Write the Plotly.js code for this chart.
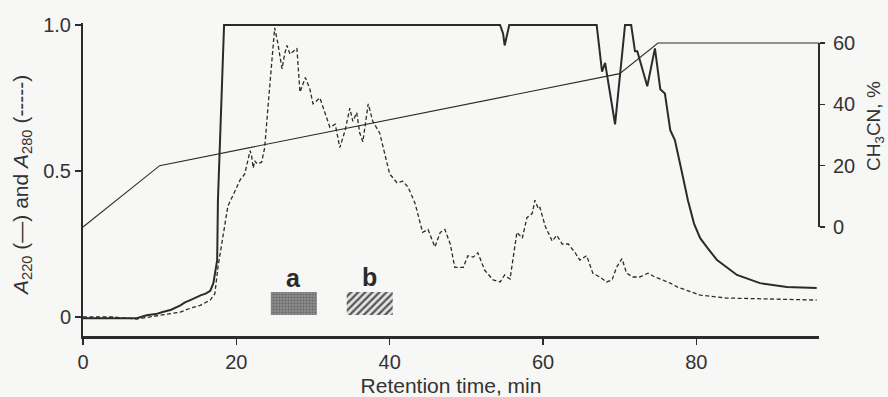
<!DOCTYPE html>
<html>
<head>
<meta charset="utf-8">
<script src="https://cdn.plot.ly/plotly-3.0.1.min.js"></script>
<style>
html,body{margin:0;padding:0;background:#f7f7f5;}
#chart{width:888px;height:397px;}
</style>
</head>
<body>
<div id="chart"></div>
<script>
// Retention time (min) and absorbance at 220 nm (solid)
var timeA220 = [0, 3.5, 7.0, 8.3, 9.5, 10.4, 11.5, 12.7, 13.3, 14.0, 14.8, 15.4, 16.0, 16.6, 17.0, 17.5, 17.6, 18.1, 18.4,
  54.4, 54.8, 55.0, 55.3, 55.6, 67.0, 67.7, 68.1, 69.4, 70.7, 71.5, 72.0, 72.3, 73.6, 74.6, 75.3, 75.9, 76.6, 77.2, 78.0,
  78.9, 79.7, 80.5, 81.5, 82.7, 85.3, 88.3, 91.8, 95.7];
var valA220 = [-0.004, -0.005, -0.004, 0.006, 0.01, 0.017, 0.025, 0.04, 0.05, 0.058, 0.068, 0.075, 0.08, 0.09, 0.115, 0.195, 0.4, 0.74, 1.0,
  1.0, 0.97, 0.93, 0.97, 1.0, 1.0, 0.84, 0.87, 0.66, 1.0, 1.0, 0.91, 0.91, 0.79, 0.92, 0.78, 0.765, 0.64, 0.606, 0.51,
  0.40, 0.32, 0.27, 0.235, 0.195, 0.144, 0.116, 0.103, 0.099];

// Absorbance at 280 nm (dashed)
var timeA280 = [0, 3.9, 7.0, 10.4, 12.7, 14.0, 15.3, 16.6, 17.2, 17.6, 18.3, 18.9, 19.8, 20.5, 21.1, 21.5, 21.8, 22.0, 22.2, 22.4,
  22.7, 23.3, 23.7, 24.1, 24.7, 25.0, 25.4, 25.96, 26.3, 26.6, 27.0, 27.4, 27.9, 28.3, 29.0, 29.6, 30.0, 30.9, 31.6, 32.2,
  32.9, 33.5, 34.2, 34.8, 35.2, 35.7, 36.1, 36.5, 37.2, 37.8, 38.7, 40.0, 40.95, 41.7, 42.4, 43.3, 44.3, 45.0, 45.9, 46.6,
  47.2, 47.9, 48.5, 49.6, 50.2, 50.9, 51.5, 52.4, 53.5, 54.4, 55.0, 55.7, 56.6, 57.3, 57.9, 58.6, 58.95, 59.4, 59.6, 60.3,
  61.2, 61.8, 62.5, 63.3, 64.2, 64.8, 65.7, 66.5, 67.4, 68.3, 69.0, 69.6, 70.3, 70.9, 71.7, 72.6, 73.7, 74.6, 75.6, 76.6,
  77.5, 80.5, 84.0, 88.3, 95.7];
var valA280 = [0.0, 0.0, -0.007, 0.007, 0.017, 0.03, 0.04, 0.058, 0.08, 0.17, 0.29, 0.38, 0.43, 0.47, 0.49, 0.54, 0.57, 0.55, 0.51, 0.535,
  0.525, 0.53, 0.58, 0.71, 0.88, 0.99, 0.94, 0.85, 0.90, 0.93, 0.90, 0.91, 0.92, 0.77, 0.82, 0.78, 0.73, 0.75, 0.70, 0.65,
  0.66, 0.58, 0.64, 0.715, 0.67, 0.70, 0.63, 0.60, 0.73, 0.67, 0.63, 0.49, 0.46, 0.465, 0.445, 0.39, 0.29, 0.30, 0.24, 0.29,
  0.30, 0.25, 0.17, 0.17, 0.21, 0.205, 0.22, 0.16, 0.127, 0.12, 0.144, 0.13, 0.29, 0.27, 0.34, 0.355, 0.40, 0.37, 0.375, 0.31,
  0.26, 0.28, 0.25, 0.25, 0.22, 0.195, 0.21, 0.15, 0.137, 0.12, 0.127, 0.17, 0.20, 0.15, 0.137, 0.137, 0.15, 0.137, 0.127, 0.116,
  0.103, 0.075, 0.065, 0.062, 0.058];

// Acetonitrile gradient (%)
var timeGradient = [0, 10, 70, 75, 96];
var pctGradient = [0, 20, 50, 60, 60];

// Collected fractions a and b (time windows, min)
var fractionLabels = ['a', 'b'];
var fractionA = [24.5, 30.5];
var fractionB = [34.4, 40.4];

var xTicks = [0, 20, 40, 60, 80];
var yTicks = [0, 0.5, 1.0];
var yTickText = ['0', '0.5', '1.0'];
var y2Ticks = [0, 20, 40, 60];

var ink = '#2b2b2b';
var txt = '#333333';
var boxLow = 0.007, boxHigh = 0.086;

var traces = [
  {x: timeA220, y: valA220, type: 'scatter', mode: 'lines', line: {color: ink, width: 2}, hoverinfo: 'skip'},
  {x: timeA280, y: valA280, type: 'scatter', mode: 'lines', line: {color: ink, width: 1.3, dash: '4px,2.5px'}, hoverinfo: 'skip'},
  {x: timeGradient, y: pctGradient, yaxis: 'y2', type: 'scatter', mode: 'lines', line: {color: ink, width: 1.1}, hoverinfo: 'skip'},
  {x: [fractionA[0], fractionA[1], fractionA[1], fractionA[0], fractionA[0]],
   y: [boxLow, boxLow, boxHigh, boxHigh, boxLow], type: 'scatter', mode: 'lines', fill: 'toself',
   fillcolor: '#858585', line: {width: 0, color: 'rgba(0,0,0,0)'},
   fillpattern: {shape: '.', bgcolor: '#8c8c8c', fgcolor: '#6a6a6a', size: 3, solidity: 0.4}, hoverinfo: 'skip'},
  {x: [fractionB[0], fractionB[1], fractionB[1], fractionB[0], fractionB[0]],
   y: [boxLow, boxLow, boxHigh, boxHigh, boxLow], type: 'scatter', mode: 'lines', fill: 'toself',
   fillcolor: '#d8d8d8', line: {width: 0, color: 'rgba(0,0,0,0)'},
   fillpattern: {shape: '/', bgcolor: '#e4e4e4', fgcolor: '#555555', size: 5, solidity: 0.45}, hoverinfo: 'skip'}
];

var layout = {
  width: 888, height: 397,
  margin: {l: 83, r: 69, t: 23, b: 61},
  paper_bgcolor: '#f7f7f5', plot_bgcolor: '#f7f7f5',
  showlegend: false,
  font: {family: 'Liberation Sans, Arial, sans-serif', size: 20, color: txt},
  xaxis: {
    range: [0, 96], tickvals: xTicks, ticks: 'outside', ticklen: 6, tickwidth: 1.5, tickcolor: ink,
    showline: true, linewidth: 2.5, linecolor: ink, showgrid: false, zeroline: false,
    tickfont: {size: 20, color: txt},
    title: {text: 'Retention time, min', font: {size: 21, color: txt}, standoff: 8}
  },
  yaxis: {
    range: [-0.065, 1.0068], tickvals: yTicks, ticktext: yTickText, ticks: 'outside', ticklen: 6, tickwidth: 1.5, tickcolor: ink,
    showline: true, linewidth: 2, linecolor: ink, showgrid: false, zeroline: false,
    tickfont: {size: 20, color: txt}
  },
  yaxis2: {
    overlaying: 'y', side: 'right', range: [-35.54, 66.52], tickvals: y2Ticks,
    ticks: 'outside', ticklen: 5, tickwidth: 1.5, tickcolor: ink,
    showline: false, showgrid: false, zeroline: false, ticklabelstandoff: 4,
    tickfont: {size: 20, color: txt}
  },
  shapes: [
    {type: 'line', xref: 'paper', yref: 'y2', x0: 1, x1: 1, y0: 0, y1: 60, line: {color: ink, width: 2}}
  ],
  annotations: [
    {xref: 'paper', yref: 'paper', x: -0.083, y: 0.482, xanchor: 'center', yanchor: 'middle', textangle: -90, showarrow: false,
     text: '<i>A</i><sub>220</sub> (—) and <i>A</i><sub>280</sub> (-----)', font: {size: 21, color: txt}},
    {xref: 'paper', yref: 'paper', x: 1.077, y: 0.67, xanchor: 'center', yanchor: 'middle', textangle: -90, showarrow: false,
     text: 'CH<sub>3</sub>CN, %', font: {size: 19, color: txt}},
    {xref: 'x', yref: 'y', x: (fractionA[0] + fractionA[1]) / 2, y: 0.135, showarrow: false, text: '<b>' + fractionLabels[0] + '</b>',
     font: {size: 25, color: '#2a2a2a'}},
    {xref: 'x', yref: 'y', x: (fractionB[0] + fractionB[1]) / 2, y: 0.138, showarrow: false, text: '<b>' + fractionLabels[1] + '</b>',
     font: {size: 25, color: '#2a2a2a'}}
  ]
};

Plotly.newPlot('chart', traces, layout, {staticPlot: true, displayModeBar: false});
</script>
</body>
</html>
